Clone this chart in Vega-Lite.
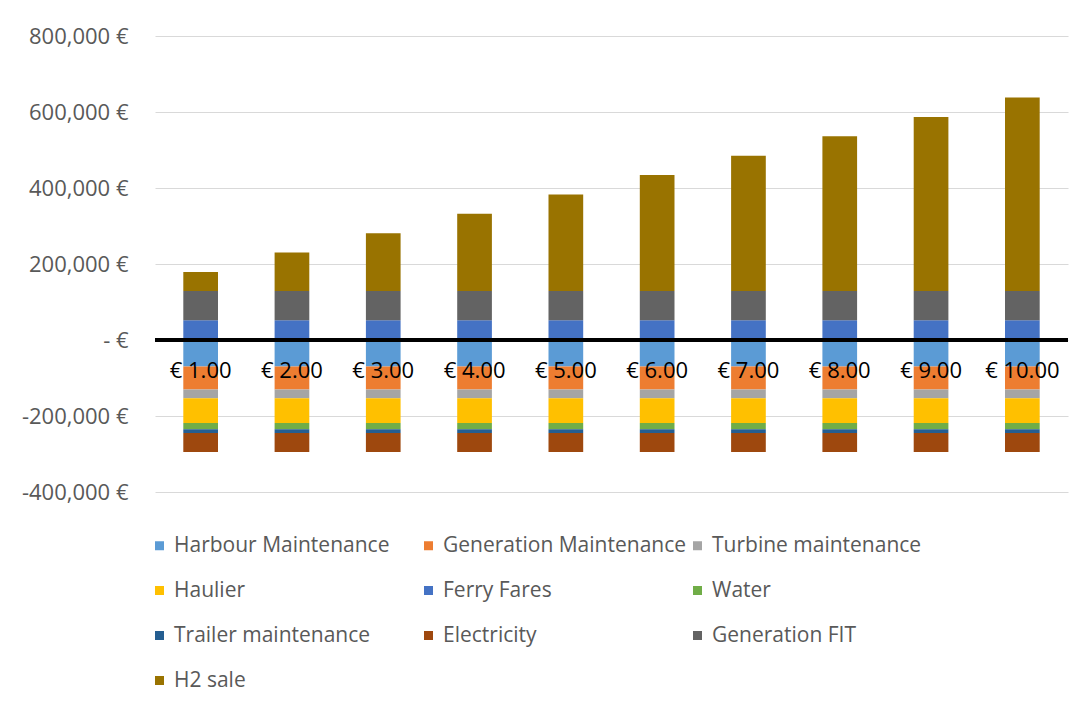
{
  "$schema": "https://vega.github.io/schema/vega-lite/v6.json",
  "width": 913,
  "height": 456,
  "autosize": {"type": "none"},
  "padding": {"left": 155, "top": 36, "right": 17, "bottom": 216},
  "background": "white",
  "config": {
    "font": "Open Sans",
    "view": {"stroke": null}
  },
  "data": {
    "values": [
      {"price": 1, "series": "Harbour Maintenance", "value": -70000},
      {"price": 1, "series": "Generation Maintenance", "value": -60000},
      {"price": 1, "series": "Turbine maintenance", "value": -23500},
      {"price": 1, "series": "Haulier", "value": -65000},
      {"price": 1, "series": "Ferry Fares", "value": 52000},
      {"price": 1, "series": "Water", "value": -16500},
      {"price": 1, "series": "Trailer maintenance", "value": -9500},
      {"price": 1, "series": "Electricity", "value": -50000},
      {"price": 1, "series": "Generation FIT", "value": 77000},
      {"price": 1, "series": "H2 sale", "value": 50000},
      {"price": 2, "series": "Harbour Maintenance", "value": -70000},
      {"price": 2, "series": "Generation Maintenance", "value": -60000},
      {"price": 2, "series": "Turbine maintenance", "value": -23500},
      {"price": 2, "series": "Haulier", "value": -65000},
      {"price": 2, "series": "Ferry Fares", "value": 52000},
      {"price": 2, "series": "Water", "value": -16500},
      {"price": 2, "series": "Trailer maintenance", "value": -9500},
      {"price": 2, "series": "Electricity", "value": -50000},
      {"price": 2, "series": "Generation FIT", "value": 77000},
      {"price": 2, "series": "H2 sale", "value": 101000},
      {"price": 3, "series": "Harbour Maintenance", "value": -70000},
      {"price": 3, "series": "Generation Maintenance", "value": -60000},
      {"price": 3, "series": "Turbine maintenance", "value": -23500},
      {"price": 3, "series": "Haulier", "value": -65000},
      {"price": 3, "series": "Ferry Fares", "value": 52000},
      {"price": 3, "series": "Water", "value": -16500},
      {"price": 3, "series": "Trailer maintenance", "value": -9500},
      {"price": 3, "series": "Electricity", "value": -50000},
      {"price": 3, "series": "Generation FIT", "value": 77000},
      {"price": 3, "series": "H2 sale", "value": 152000},
      {"price": 4, "series": "Harbour Maintenance", "value": -70000},
      {"price": 4, "series": "Generation Maintenance", "value": -60000},
      {"price": 4, "series": "Turbine maintenance", "value": -23500},
      {"price": 4, "series": "Haulier", "value": -65000},
      {"price": 4, "series": "Ferry Fares", "value": 52000},
      {"price": 4, "series": "Water", "value": -16500},
      {"price": 4, "series": "Trailer maintenance", "value": -9500},
      {"price": 4, "series": "Electricity", "value": -50000},
      {"price": 4, "series": "Generation FIT", "value": 77000},
      {"price": 4, "series": "H2 sale", "value": 203000},
      {"price": 5, "series": "Harbour Maintenance", "value": -70000},
      {"price": 5, "series": "Generation Maintenance", "value": -60000},
      {"price": 5, "series": "Turbine maintenance", "value": -23500},
      {"price": 5, "series": "Haulier", "value": -65000},
      {"price": 5, "series": "Ferry Fares", "value": 52000},
      {"price": 5, "series": "Water", "value": -16500},
      {"price": 5, "series": "Trailer maintenance", "value": -9500},
      {"price": 5, "series": "Electricity", "value": -50000},
      {"price": 5, "series": "Generation FIT", "value": 77000},
      {"price": 5, "series": "H2 sale", "value": 254000},
      {"price": 6, "series": "Harbour Maintenance", "value": -70000},
      {"price": 6, "series": "Generation Maintenance", "value": -60000},
      {"price": 6, "series": "Turbine maintenance", "value": -23500},
      {"price": 6, "series": "Haulier", "value": -65000},
      {"price": 6, "series": "Ferry Fares", "value": 52000},
      {"price": 6, "series": "Water", "value": -16500},
      {"price": 6, "series": "Trailer maintenance", "value": -9500},
      {"price": 6, "series": "Electricity", "value": -50000},
      {"price": 6, "series": "Generation FIT", "value": 77000},
      {"price": 6, "series": "H2 sale", "value": 305000},
      {"price": 7, "series": "Harbour Maintenance", "value": -70000},
      {"price": 7, "series": "Generation Maintenance", "value": -60000},
      {"price": 7, "series": "Turbine maintenance", "value": -23500},
      {"price": 7, "series": "Haulier", "value": -65000},
      {"price": 7, "series": "Ferry Fares", "value": 52000},
      {"price": 7, "series": "Water", "value": -16500},
      {"price": 7, "series": "Trailer maintenance", "value": -9500},
      {"price": 7, "series": "Electricity", "value": -50000},
      {"price": 7, "series": "Generation FIT", "value": 77000},
      {"price": 7, "series": "H2 sale", "value": 356000},
      {"price": 8, "series": "Harbour Maintenance", "value": -70000},
      {"price": 8, "series": "Generation Maintenance", "value": -60000},
      {"price": 8, "series": "Turbine maintenance", "value": -23500},
      {"price": 8, "series": "Haulier", "value": -65000},
      {"price": 8, "series": "Ferry Fares", "value": 52000},
      {"price": 8, "series": "Water", "value": -16500},
      {"price": 8, "series": "Trailer maintenance", "value": -9500},
      {"price": 8, "series": "Electricity", "value": -50000},
      {"price": 8, "series": "Generation FIT", "value": 77000},
      {"price": 8, "series": "H2 sale", "value": 407000},
      {"price": 9, "series": "Harbour Maintenance", "value": -70000},
      {"price": 9, "series": "Generation Maintenance", "value": -60000},
      {"price": 9, "series": "Turbine maintenance", "value": -23500},
      {"price": 9, "series": "Haulier", "value": -65000},
      {"price": 9, "series": "Ferry Fares", "value": 52000},
      {"price": 9, "series": "Water", "value": -16500},
      {"price": 9, "series": "Trailer maintenance", "value": -9500},
      {"price": 9, "series": "Electricity", "value": -50000},
      {"price": 9, "series": "Generation FIT", "value": 77000},
      {"price": 9, "series": "H2 sale", "value": 458000},
      {"price": 10, "series": "Harbour Maintenance", "value": -70000},
      {"price": 10, "series": "Generation Maintenance", "value": -60000},
      {"price": 10, "series": "Turbine maintenance", "value": -23500},
      {"price": 10, "series": "Haulier", "value": -65000},
      {"price": 10, "series": "Ferry Fares", "value": 52000},
      {"price": 10, "series": "Water", "value": -16500},
      {"price": 10, "series": "Trailer maintenance", "value": -9500},
      {"price": 10, "series": "Electricity", "value": -50000},
      {"price": 10, "series": "Generation FIT", "value": 77000},
      {"price": 10, "series": "H2 sale", "value": 509000}
    ]
  },
  "layer": [
    {
      "mark": {"type": "bar"},
      "encoding": {
        "x": {
          "field": "price",
          "type": "ordinal",
          "scale": {"paddingInner": 0.62, "paddingOuter": 0.31},
          "axis": {
            "title": null,
            "labelExpr": "'€ ' + format(datum.value, '.2f')",
            "labelAngle": 0,
            "labelFontSize": 22,
            "labelColor": "#000000",
            "labelPadding": 0,
            "ticks": false,
            "domain": false,
            "offset": -132,
            "zindex": 2
          }
        },
        "y": {
          "field": "value",
          "type": "quantitative",
          "stack": "zero",
          "scale": {"domain": [-400000, 800000], "nice": false},
          "axis": {
            "title": null,
            "values": [-400000, -200000, 0, 200000, 400000, 600000, 800000],
            "labelExpr": "datum.value == 0 ? '- €' : (datum.value < 0 ? '-' + format(-datum.value, ',') : format(datum.value, ',')) + ' €'",
            "labelFontSize": 22,
            "labelColor": "#595959",
            "labelPadding": 27,
            "ticks": false,
            "domain": false,
            "gridColor": "#D9D9D9",
            "gridWidth": 1
          }
        },
        "color": {
          "field": "series",
          "type": "nominal",
          "sort": ["Harbour Maintenance", "Generation Maintenance", "Turbine maintenance", "Haulier", "Ferry Fares", "Water", "Trailer maintenance", "Electricity", "Generation FIT", "H2 sale"],
          "scale": {
            "domain": ["Harbour Maintenance", "Generation Maintenance", "Turbine maintenance", "Haulier", "Ferry Fares", "Water", "Trailer maintenance", "Electricity", "Generation FIT", "H2 sale"],
            "range": ["#5B9BD5", "#ED7D31", "#A5A5A5", "#FFC000", "#4472C4", "#70AD47", "#255E91", "#9E480E", "#636363", "#997300"]
          },
          "legend": {
            "title": null,
            "orient": "none",
            "legendX": -6,
            "legendY": 499,
            "columns": 3,
            "direction": "horizontal",
            "gridAlign": "all",
            "columnPadding": 0,
            "rowPadding": 23,
            "padding": 0,
            "symbolType": "square",
            "symbolSize": 81,
            "symbolStrokeWidth": 0,
            "labelFontSize": 21,
            "labelColor": "#595959",
            "labelOffset": 4,
            "labelLimit": 400
          }
        },
        "order": {"field": "series_order", "type": "quantitative"}
      }
    },
    {
      "mark": {"type": "rule", "color": "#000000", "strokeWidth": 3},
      "encoding": {"y": {"datum": 0}}
    }
  ]
}
